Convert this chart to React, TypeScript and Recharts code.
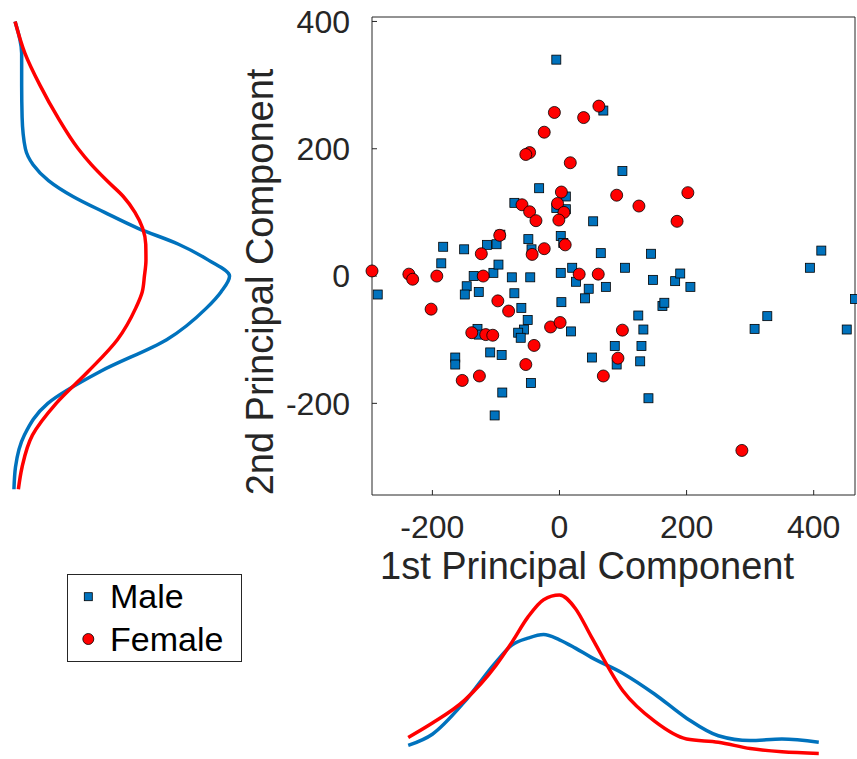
import React from "react";
import { ScatterChart, Scatter, XAxis, YAxis, LineChart, Line } from "recharts";

const FONT = '"Liberation Sans", Arial, Helvetica, sans-serif';
const AXIS = "#262626";
const BLUE = "#0072bd";
const RED = "#ff0000";

const X_DOMAIN = [-295, 465];
const Y_DOMAIN = [-344, 407];
const X_TICKS = [-200, 0, 200, 400];
const Y_TICKS = [-200, 0, 200, 400];

// [1st PC, 2nd PC] scores
const MALE = [
    [-5, 340], [69, 260], [-32, 138], [10, 125], [-71, 115], [-5, 107], [10, 105], [53, 86],
    [-93, 65], [2, 63], [-49, 58], [-183, 46], [-150, 42], [-114, 49], [-99, 50], [6, 52],
    [-44, 42], [65, 36], [99, 165], [144, 35], [412, 40], [-186, 20], [-135, 0], [-104, 5],
    [-96, 18], [-75, -2], [-46, -2], [2, 5], [20, 13], [26, -9], [46, -20], [40, -35],
    [73, -17], [-286, -29], [-146, -16], [-149, -29], [-127, -25], [-71, -27], [-60, -50], [3, -41],
    [-50, -69], [-56, -84], [-65, -89], [-61, -97], [18, -87], [-129, -83], [-127, -92], [-109, -120],
    [-91, -124], [-164, -128], [-164, -139], [51, -128], [-45, -168], [-90, -183], [-102, -219], [103, 13],
    [147, -6], [182, -8], [190, 4], [206, -17], [162, -47], [165, -42], [124, -62], [132, -84],
    [87, -110], [129, -110], [90, -139], [127, -134], [140, -192], [394, 13], [327, -63], [307, -83],
    [452, -84], [465, -36]
];

const FEMALE = [
    [62, 267], [-8, 257], [38, 249], [-24, 226], [-47, 194], [-53, 191], [17, 178], [3, 132],
    [-59, 112], [-3, 114], [7, 100], [-47, 101], [-37, 87], [-1, 88], [-94, 64], [-24, 43],
    [9, 49], [-123, 35], [-43, 34], [90, 127], [202, 131], [125, 110], [185, 86], [-295, 8],
    [-237, 3], [-231, -5], [-193, 0], [-120, 0], [31, 3], [61, 3], [-97, -39], [-80, -55],
    [-202, -52], [-14, -80], [1, -73], [-138, -89], [-116, -92], [-105, -93], [-40, -109], [-53, -139],
    [69, -157], [-153, -164], [-126, -157], [99, -85], [92, -129], [287, -274]
];

// kernel density of the 2nd PC (left panel)
const PC2_GRID = [400, 350, 300, 250, 200, 175, 150, 125, 100, 75, 50, 25, 0, -25, -50, -100, -150, -200, -250, -300, -335];
const MALE_PC2_DENS = [0.023, 0.053, 0.053, 0.055, 0.07, 0.105, 0.175, 0.286, 0.43, 0.582, 0.766, 0.902, 0.998, 0.959, 0.894, 0.712, 0.41, 0.172, 0.065, 0.025, 0.018];
const FEMALE_PC2_DENS = [0.023, 0.068, 0.136, 0.216, 0.31, 0.37, 0.44, 0.515, 0.568, 0.603, 0.617, 0.618, 0.611, 0.601, 0.572, 0.488, 0.355, 0.21, 0.102, 0.055, 0.038];

// kernel density of the 1st PC (bottom panel)
const PC1_GRID = [-238, -200, -150, -100, -75, -50, -25, 0, 25, 50, 100, 150, 200, 250, 300, 350, 408];
const MALE_PC1_DENS = [0.06, 0.13, 0.33, 0.58, 0.687, 0.73, 0.753, 0.72, 0.668, 0.61, 0.51, 0.38, 0.23, 0.12, 0.09, 0.1, 0.08];
const FEMALE_PC1_DENS = [0.11, 0.2, 0.34, 0.56, 0.704, 0.86, 0.971, 1.0, 0.916, 0.74, 0.4, 0.21, 0.1, 0.08, 0.04, 0.02, 0.01];

const malePts = MALE.map(([x, y]) => ({ x, y }));
const femalePts = FEMALE.map(([x, y]) => ({ x, y }));
const leftData = PC2_GRID.map((pc2, i) => ({ pc2, male: MALE_PC2_DENS[i], female: FEMALE_PC2_DENS[i] }));
const bottomData = PC1_GRID.map((pc1, i) => ({ pc1, male: MALE_PC1_DENS[i], female: FEMALE_PC1_DENS[i] }));

const Square = (props: any) => {
    const { cx, cy } = props;
    return <rect x={cx - 4.5} y={cy - 4.5} width={9} height={9} fill={BLUE} stroke="#000" strokeWidth={0.8} />;
};

const Dot = (props: any) => {
    const { cx, cy } = props;
    return <circle cx={cx} cy={cy} r={6} fill={RED} stroke="#000" strokeWidth={0.8} />;
};

const tickStyle = { fontSize: 32, fill: AXIS, fontFamily: FONT };

const App = () => {
    return (
        <div style={{ position: "absolute", left: 0, top: 0, width: 857, height: 759, background: "#fff" }}>
            <div style={{ position: "absolute", left: 0, top: 0 }}>
                <ScatterChart width={857} height={759} margin={{ top: 16, right: 1, bottom: 204, left: 272 }}>
                    <XAxis
                        xAxisId="b"
                        type="number"
                        dataKey="x"
                        domain={X_DOMAIN}
                        ticks={X_TICKS}
                        interval={0}
                        height={60}
                        tickSize={-5}
                        tickMargin={25}
                        stroke={AXIS}
                        tick={tickStyle}
                        label={() => (
                            <text x={587} y={579} textAnchor="middle" fontSize={38} fill={AXIS} fontFamily={FONT}>
                                1st Principal Component
                            </text>
                        )}
                    />
                    <XAxis xAxisId="t" orientation="top" type="number" dataKey="x" domain={X_DOMAIN} ticks={X_TICKS} interval={0} height={1} tickSize={-5} tick={false} stroke={AXIS} />
                    <YAxis
                        yAxisId="l"
                        type="number"
                        dataKey="y"
                        domain={Y_DOMAIN}
                        ticks={Y_TICKS}
                        interval={0}
                        width={100}
                        tickSize={-5}
                        tickMargin={27}
                        stroke={AXIS}
                        tick={tickStyle}
                        label={() => (
                            <text x={273} y={282} transform="rotate(-90 273 282)" textAnchor="middle" fontSize={38} fill={AXIS} fontFamily={FONT}>
                                2nd Principal Component
                            </text>
                        )}
                    />
                    <YAxis yAxisId="r" orientation="right" type="number" dataKey="y" domain={Y_DOMAIN} ticks={Y_TICKS} interval={0} width={1} tickSize={-5} tick={false} stroke={AXIS} />
                    <Scatter xAxisId="b" yAxisId="l" name="Male" data={malePts} shape={Square} isAnimationActive={false} />
                    <Scatter xAxisId="b" yAxisId="l" name="Female" data={femalePts} shape={Dot} isAnimationActive={false} />
                </ScatterChart>
            </div>

            <div style={{ position: "absolute", left: 0, top: 0 }}>
                <LineChart layout="vertical" width={245} height={520} data={leftData} margin={{ top: 17, right: 15, bottom: 25, left: 10 }}>
                    <XAxis type="number" domain={[0, 1]} hide />
                    <YAxis type="number" dataKey="pc2" domain={Y_DOMAIN} reversed hide />
                    <Line type="monotone" dataKey="male" stroke={BLUE} strokeWidth={3.5} dot={false} isAnimationActive={false} />
                    <Line type="monotone" dataKey="female" stroke={RED} strokeWidth={3.5} dot={false} isAnimationActive={false} />
                </LineChart>
            </div>

            <div style={{ position: "absolute", left: 0, top: 580 }}>
                <LineChart width={857} height={179} data={bottomData} margin={{ top: 15, right: 2, bottom: 4, left: 372 }}>
                    <XAxis type="number" dataKey="pc1" domain={X_DOMAIN} hide />
                    <YAxis type="number" domain={[0, 1]} hide />
                    <Line type="monotone" dataKey="male" stroke={BLUE} strokeWidth={3.5} dot={false} isAnimationActive={false} />
                    <Line type="monotone" dataKey="female" stroke={RED} strokeWidth={3.5} dot={false} isAnimationActive={false} />
                </LineChart>
            </div>

            <svg width={176} height={90} style={{ position: "absolute", left: 67, top: 574 }}>
                <rect x={0.5} y={0.5} width={174} height={87} fill="#fff" stroke={AXIS} strokeWidth={1} />
                <rect x={17.3} y={18.7} width={8} height={8} fill={BLUE} stroke="#000" strokeWidth={0.8} />
                <text x={43} y={34} fontSize={34} fontFamily={FONT} fill="#000">Male</text>
                <circle cx={21.3} cy={65} r={5.5} fill={RED} stroke="#000" strokeWidth={0.8} />
                <text x={43} y={77} fontSize={34} fontFamily={FONT} fill="#000">Female</text>
            </svg>
        </div>
    );
};

export default App;
